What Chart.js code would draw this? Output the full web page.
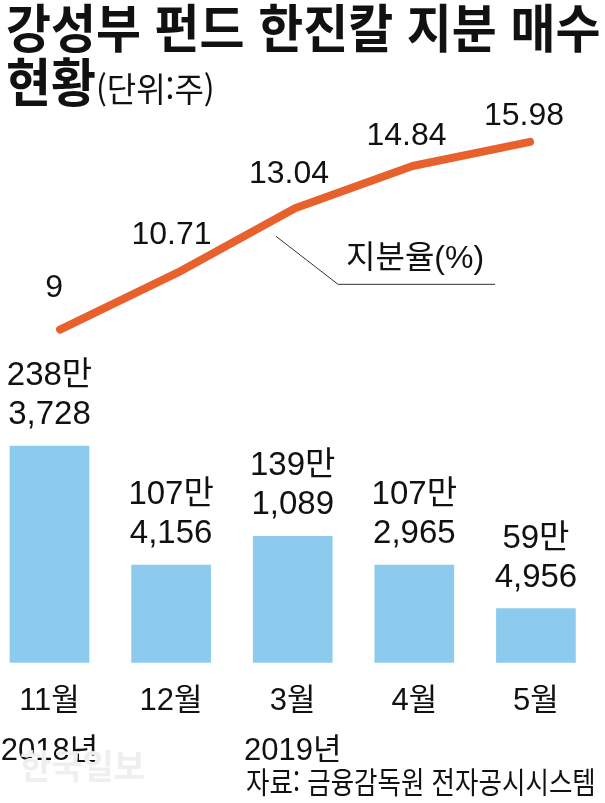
<!DOCTYPE html>
<html lang="ko">
<head>
<meta charset="utf-8">
<script src="https://cdn.jsdelivr.net/npm/chart.js@4.4.1/dist/chart.umd.min.js"></script>
<style>
    html, body { margin: 0; padding: 0; background: #fff; }
    #wrap { position: relative; width: 605px; height: 803px; overflow: hidden; font-family: "Noto Sans CJK KR", sans-serif; color: #111; }
    #chart { position: absolute; left: 0; top: 0; }
    .txt { position: absolute; white-space: nowrap; transform-origin: left top; line-height: 1; }
    #t1 { left: 6px; top: 0px; font-size: 52px; font-weight: 700; transform: scaleX(0.94); }
    #t2 { left: 6px; top: 54px; font-size: 52px; font-weight: 700; transform: scaleX(0.94); }
    #t2 span { font-size: 34px; font-weight: 400; }
    #src { left: 246px; top: 765px; font-size: 30px; transform: scaleX(0.85); }
    #wm { left: 20px; top: 748px; font-size: 34px; font-weight: 700; color: #efefef; }
</style>
</head>
<body>
<div id="wrap">
    <canvas id="chart" width="605" height="803"></canvas>
    <div class="txt" id="wm">한국일보</div>
    <div class="txt" id="t1">강성부 펀드 한진칼 지분 매수</div>
    <div class="txt" id="t2">현황<span>(단위:주)</span></div>
    <div class="txt" id="src">자료: 금융감독원 전자공시시스템</div>
</div>
<script>
// --- data ---
const months = ['11월', '12월', '3월', '4월', '5월'];
const years = ['2018년', '', '2019년', '', ''];
const shares = [2383728, 1074156, 1391089, 1072965, 594956];   // 매수 주식 수
const stakePct = [9, 10.71, 13.04, 14.84, 15.98];              // 지분율(%)

const BAR_COLOR = '#8ccbee';
const LINE_COLOR = '#e8602c';
const NUM_FONT = '"Liberation Sans", "Noto Sans CJK KR", sans-serif';

// value labels, leader line and legend note
const labelPlugin = {
    id: 'valueLabels',
    afterDatasetsDraw(chart) {
        const ctx = chart.ctx;
        ctx.save();
        ctx.fillStyle = '#111';
        ctx.textAlign = 'center';
        ctx.textBaseline = 'alphabetic';

        // bars: "238만" / "3,728"
        ctx.font = '33px ' + NUM_FONT;
        chart.getDatasetMeta(1).data.forEach((bar, i) => {
            const v = shares[i];
            const man = Math.floor(v / 10000) + '만';
            const rest = (v % 10000).toLocaleString('en-US');
            ctx.fillText(man, bar.x, bar.y - 61);
            ctx.fillText(rest, bar.x, bar.y - 22);
        });

        // line points (labels sit a little higher on the left side)
        ctx.font = '32px ' + NUM_FONT;
        const pts = chart.getDatasetMeta(0).data;
        pts.forEach((p, i) => {
            ctx.fillText(String(stakePct[i]), p.x - 6, p.y - 33 + i * 4);
        });

        // leader line to "지분율(%)"
        const k = pts[2];
        ctx.strokeStyle = '#333';
        ctx.lineWidth = 1;
        ctx.beginPath();
        ctx.moveTo(k.x - 19, k.y + 28);
        ctx.lineTo(k.x + 43, k.y + 76);
        ctx.lineTo(k.x + 200, k.y + 76);
        ctx.stroke();

        ctx.fillText('지분율(%)', k.x + 120, k.y + 60);
        ctx.restore();
    }
};

const ctx = document.getElementById('chart').getContext('2d');
const chart = new Chart(ctx, {
    data: {
        datasets: [
            {
                type: 'line',
                data: stakePct.map((v, i) => ({ x: i, y: v })),
                xAxisID: 'x2',
                yAxisID: 'y2',
                borderColor: LINE_COLOR,
                borderWidth: 8,
                borderCapStyle: 'round',
                borderJoinStyle: 'round',
                pointRadius: 0,
                tension: 0
            },
            {
                type: 'bar',
                data: shares.map((v, i) => ({ x: i, y: v })),
                xAxisID: 'x',
                yAxisID: 'y',
                backgroundColor: BAR_COLOR,
                borderWidth: 0,
                grouped: false,
                barThickness: 79
            }
        ]
    },
    options: {
        responsive: false,
        animation: false,
        layout: { padding: { top: 117, bottom: 21, left: 0, right: 0 } },
        plugins: { legend: { display: false }, tooltip: { enabled: false } },
        scales: {
            x: {
                type: 'linear',
                offset: false,
                min: -0.407,
                max: 4.568,
                grid: { display: false, offset: false },
                border: { display: false },
                afterFit: (s) => { s.paddingLeft = 0; s.paddingRight = 0; },
                ticks: {
                    stepSize: 1,
                    includeBounds: false,
                    maxRotation: 0,
                    autoSkip: false,
                    padding: 6,
                    color: '#111',
                    font: { size: 31, family: NUM_FONT, lineHeight: 1.6 },
                    callback: (v) => Number.isInteger(v) && months[v] ? [months[v], years[v]] : ''
                }
            },
            x2: { type: 'linear', display: false, offset: false, min: -0.511, max: 4.638 },
            y: { display: false, min: 0, max: 6000000 },
            y2: { type: 'logarithmic', display: false, min: 3.25, max: 17.24 }
        }
    },
    plugins: [labelPlugin]
});
</script>
</body>
</html>
